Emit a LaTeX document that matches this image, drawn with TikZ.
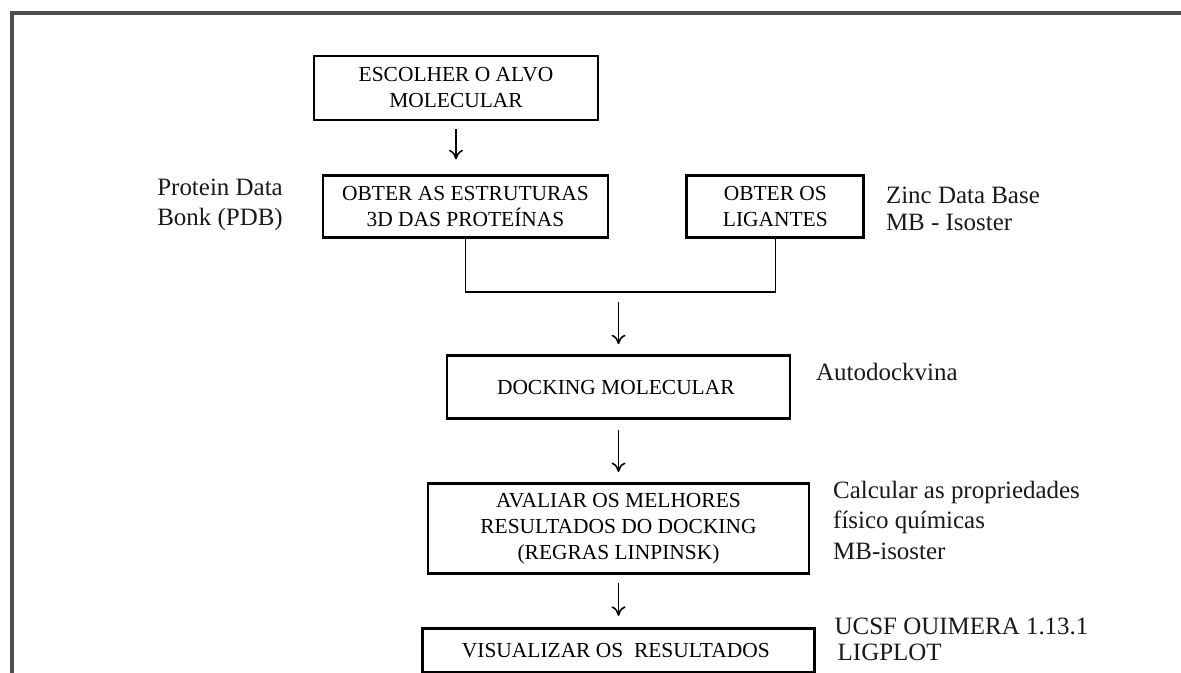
\documentclass[tikz,border=0pt]{standalone}
\usepackage{fontspec}
\setmainfont{Liberation Serif}
\usetikzlibrary{arrows.meta,positioning,calc}
\tikzset{
    stepbox/.style={
        rectangle,
        draw=black,
        line width=1.6pt,
        text=black,
        align=center,
        inner sep=2pt,
        font=\fontsize{12.2}{14.8}\selectfont,
    },
    sidenote/.style={
        align=left,
        inner sep=0pt,
        text=black!90,
        font=\fontsize{14.2}{17.3}\selectfont,
    },
}

\begin{document}
\begin{tikzpicture}[
    node distance=1.06cm,
    >={To[length=1.9mm,width=2.8mm]},
    line width=0.9pt]

\useasboundingbox (0,0) rectangle (23.62,-13.46);

% frame
\draw [line width=2.2pt, black!70] (0.24,-13.46) -- (0.24,-0.26) -- (23.62,-0.26);

% target
\node
[
    stepbox,
    minimum width=5.68cm,
    minimum height=1.28cm
] (esc) at (9.12,-1.76)
{
    ESCOLHER O ALVO\\
    MOLECULAR
};
% proteins
\node
[
    stepbox,
    minimum width=5.70cm,
    minimum height=1.24cm
] (est) [below=of esc, xshift=0.19cm]
{
    OBTER AS ESTRUTURAS\\
    3D DAS PROTEÍNAS
};
% ligands
\node
[
    stepbox,
    minimum width=3.54cm,
    minimum height=1.24cm
] (lig) [right=1.52cm of est]
{
    OBTER OS\\
    LIGANTES
};
% docking
\node
[
    stepbox,
    minimum width=6.86cm,
    minimum height=1.26cm
] (dock) [below=2.30cm of est, xshift=3.06cm]
{
    DOCKING MOLECULAR
};
% evaluation
\node
[
    stepbox,
    minimum width=7.62cm,
    minimum height=1.80cm
] (aval) [below=1.24cm of dock]
{
    AVALIAR OS MELHORES\\
    RESULTADOS DO DOCKING\\
    (REGRAS LINPINSK)
};
% view
\node
[
    stepbox,
    minimum width=7.84cm,
    minimum height=0.88cm
] (vis) [below=1.04cm of aval]
{
    VISUALIZAR OS\ \ RESULTADOS
};

% tools
\node [sidenote, left=0.76cm of est, yshift=0.04cm] (pdb) {Protein Data\\Bonk (PDB)};
\node [sidenote, right=0.40cm of lig, yshift=-0.04cm] (zinc) {Zinc Data Base\\[-1.5pt]MB - Isoster};
\node [sidenote, right=0.48cm of dock, yshift=0.31cm] (vina) {Autodockvina};
\node [sidenote, right=0.44cm of aval, yshift=0.16cm] (prop) {Calcular as propriedades\\f\'{\i}sico qu\'{\i}micas\\MB-isoster};
\node [sidenote, right=0.36cm of vis, yshift=0.22cm] (ucsf) {UCSF OUIMERA 1.13.1\\[-2.5pt]\hspace{0.06cm}LIGPLOT};

% connectors
\path (est.south) ++(0,-1.06cm) coordinate (estdrop);
\coordinate (join) at (dock.north |- estdrop);
\draw (est.south) -- (estdrop) -| (lig.south);
\draw [->, shorten <=0.16cm, shorten >=0.30cm] (esc.south) -- (esc.south |- est.north);
\draw [->, shorten <=0.20cm, shorten >=0.20cm] (join) -- (dock.north);
\draw [->, shorten <=0.20cm, shorten >=0.20cm] (dock.south) -- (dock.south |- aval.north);
\draw [->, shorten <=0.16cm, shorten >=0.22cm] (aval.south) -- (aval.south |- vis.north);

\end{tikzpicture}
\end{document}
